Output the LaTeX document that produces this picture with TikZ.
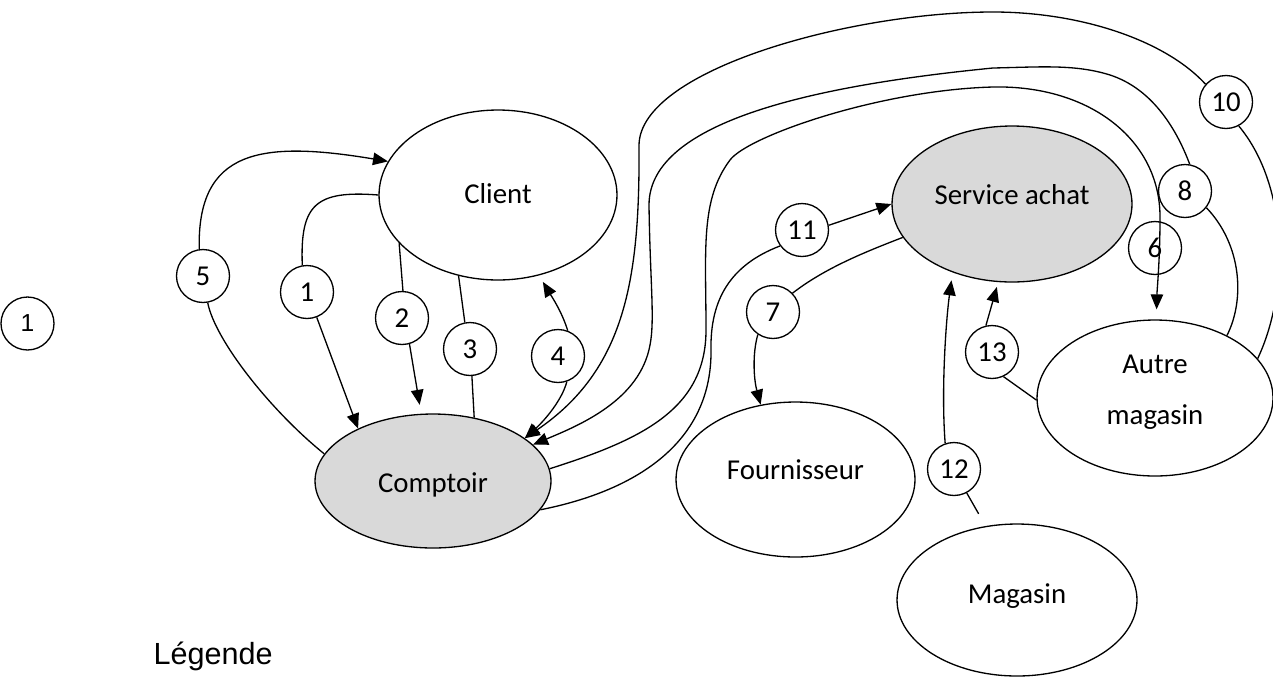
\documentclass[tikz,border=0pt]{standalone}
\usepackage{fontspec}
\setmainfont{Carlito}
\newfontfamily\arialf{Liberation Sans}
\usetikzlibrary{shapes.geometric,arrows.meta}
\definecolor{shade}{HTML}{D9D9D9}
\newcommand\ellt[2]{\raisebox{#1}[0pt][0pt]{\makebox[0pt]{#2}}}
\begin{document}
\begin{tikzpicture}[x=0.02cm,y=-0.02cm, line width=0.75pt,
  ell/.style={ellipse, draw, inner sep=0pt, font=\fontsize{16.4}{19}\selectfont},
  numc/.style={circle, draw, fill=white, minimum size=1.06cm, inner sep=0pt, font=\fontsize{16.4}{19}\selectfont},
  arr/.style={-{Triangle[length=0.3cm,width=0.25cm]}}]
\useasboundingbox (0,0) rectangle (1273,677);

% ellipses
\node[ell, fill=shade, minimum width=4.72cm, minimum height=2.68cm] (comptoir) at (433,481) {\ellt{-6.6pt}{Comptoir}};
\node[ell, minimum width=4.76cm, minimum height=3.4cm] (client) at (498,195) {\ellt{-5pt}{Client}};
\node[ell, fill=shade, minimum width=4.8cm, minimum height=3.12cm] (achat) at (1012,204) {\ellt{-0.5pt}{Service achat}};
\node[ell, minimum width=4.78cm, minimum height=3.1cm] (fourn) at (795.5,479.5) {\ellt{0pt}{Fournisseur}};
\node[ell, minimum width=4.8cm, minimum height=3.04cm] (magasin) at (1017,600) {\ellt{-1.9pt}{Magasin}};
\node[ell, minimum width=4.72cm, minimum height=3.12cm] (autre) at (1155,398) {\ellt{14.2pt}{Autre}\ellt{-15.3pt}{magasin}};

% numbered circles
\node[numc, font=\arialf\fontsize{14}{16}\selectfont] (leg1) at (27.5,323.5) {1};
\node[numc] (c5) at (203,276) {5};
\node[numc] (c1) at (307,292) {1};
\node[numc] (c2) at (402,318) {2};
\node[numc] (c3) at (470,349) {3};
\node[numc] (c4) at (558,356) {4};
\node[numc] (c11) at (802,230) {11};
\node[numc] (c7) at (773,312) {7};
\node[numc] (c13) at (992,352) {13};
\node[numc] (c12) at (954,469) {12};
\node[numc] (c6) at (1155,248) {6};
\node[numc] (c8) at (1185,191) {8};
\node[numc] (c10) at (1226,102) {10};

\node[anchor=base west, inner sep=0pt, font=\arialf\fontsize{17.4}{20}\selectfont] (legende) at (153,664) {Légende};

% connectors 1-5
\draw (comptoir.166) .. controls (270,410) and (215,340) .. (c5.280);
\draw[arr] (c5.98) .. controls (197,150) and (260,140) .. (client.163);
\draw (client.180) .. controls (315,190) and (300,205) .. (c1.100);
\draw[arr] (c1.291) -- (comptoir.145);
\draw (client.206) -- (c2.88);
\draw[arr, shorten >=0.18cm] (c2.286) -- (comptoir.100);
\draw (client.244) -- (c3.101);
\draw (c3.274) -- (comptoir.57);
\draw[arr, shorten >=0.15cm] (c4.69) .. controls (562,312) and (552,297) .. (client.297);
\draw[arr] (c4.289) .. controls (562,400) and (545,420) .. (comptoir.25);

% 10
\draw (autre.21) .. controls (1290,290) and (1288,185) .. (c10.298);
\draw[arr] (c10.139) .. controls (1165,40) and (1080,12) .. (993,12)
  .. controls (850,12) and (640,70) .. (639,145)
  .. controls (640,280) and (625,370) .. (comptoir.25);

% 8
\draw (autre.41) .. controls (1245,300) and (1242,245) .. (c8.322);
\draw[arr] (c8.80) .. controls (1175,125) and (1150,88) .. (1110,75)
  .. controls (1075,64) and (1040,67) .. (993,68)
  .. controls (820,85) and (649,120) .. (649,205)
  .. controls (650,280) and (655,320) .. (650,345)
  .. controls (640,400) and (580,425) .. (comptoir.20);

% 6
\draw[arr, shorten >=0.2cm] (comptoir.6) .. controls (640,440) and (706,410) .. (706,330)
  .. controls (706,250) and (700,200) .. (730,160)
  .. controls (748,136) and (880,90) .. (993,87)
  .. controls (1090,85) and (1160,140) .. (1160,217)
  .. controls (1160,260) and (1157,290) .. (autre.89);

% 11
\draw (comptoir.-15) .. controls (640,490) and (712,440) .. (711,350)
  .. controls (710,300) and (730,265) .. (c11.216);
\draw[arr] (c11.10) -- (achat.180);

% 7
\draw (achat.197) .. controls (865,252) and (825,268) .. (c7.44);
\draw[arr] (c7.236) .. controls (752,355) and (754,380) .. (fourn.115);

% 12
\draw[shorten <=0.28cm] (magasin.113) -- (c12.298);
\draw[arr, shorten >=0.16cm] (c12.109) .. controls (941,390) and (946,320) .. (achat.229);

% 13
\draw (autre.181) -- (c13.295);
\draw[arr, shorten >=0.1cm] (c13.103) -- (achat.260);
\end{tikzpicture}
\end{document}
